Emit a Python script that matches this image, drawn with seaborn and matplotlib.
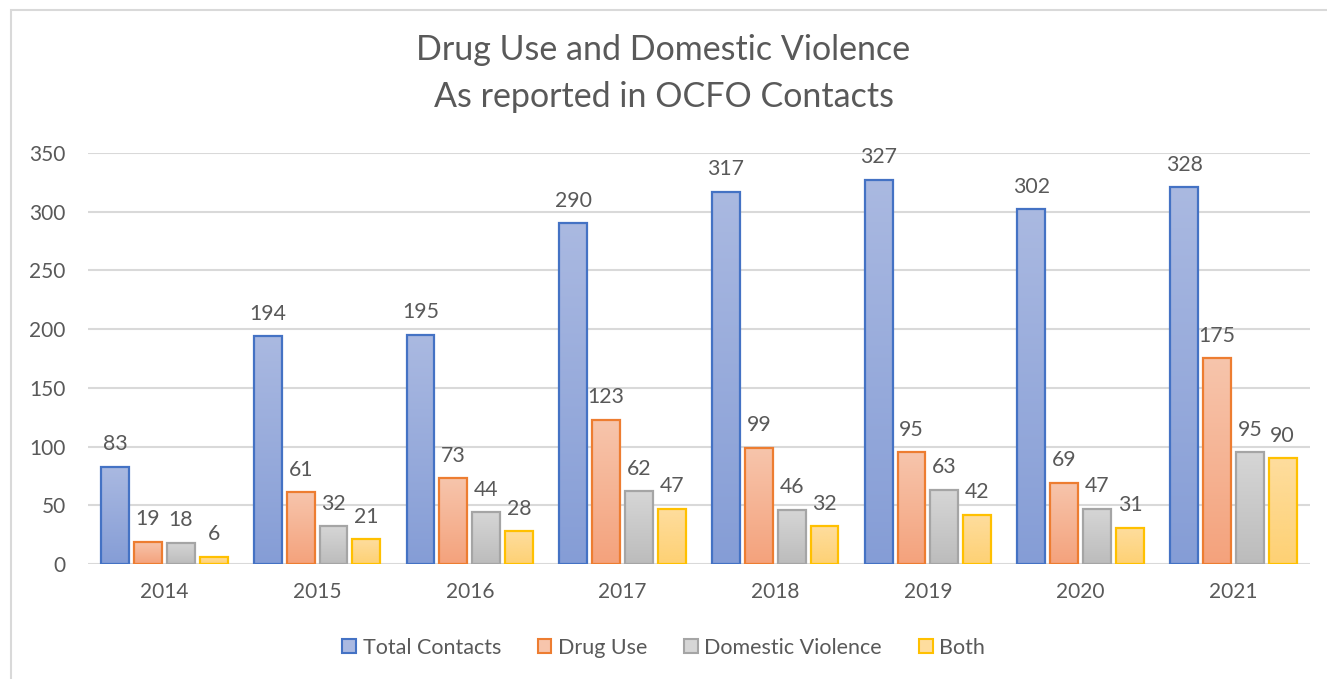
import numpy as np
import pandas as pd
import matplotlib
matplotlib.use("Agg")
import matplotlib.pyplot as plt
import seaborn as sns
from matplotlib.patches import Patch, Rectangle
from matplotlib.colors import LinearSegmentedColormap

years = ["2014", "2015", "2016", "2017", "2018", "2019", "2020", "2021"]
series = ["Total Contacts", "Drug Use", "Domestic Violence", "Both"]
total_contacts = [83, 194, 195, 290, 317, 327, 302, 321]
drug_use = [19, 61, 73, 123, 99, 95, 69, 175]
domestic_violence = [18, 32, 44, 62, 46, 63, 47, 95]
both = [6, 21, 28, 47, 32, 42, 31, 90]
# labels as printed on the chart
total_labels = [83, 194, 195, 290, 317, 327, 302, 328]

title = "Drug Use and Domestic Violence\nAs reported in OCFO Contacts"

edge_colors = ["#4472C4", "#ED7D31", "#A5A5A5", "#FFC000"]
top_colors = ["#AAB9E1", "#F7C5AC", "#D6D6D6", "#FEDD9E"]
bot_colors = ["#859DD6", "#F4A27C", "#BCBCBC", "#FED174"]

text_color = "#595959"
grid_color = "#D9D9D9"

df = pd.DataFrame({
    "Year": years * 4,
    "Series": sum([[s] * len(years) for s in series], []),
    "Value": total_contacts + drug_use + domestic_violence + both,
})
labels_all = [total_labels, drug_use, domestic_violence, both]

sns.set_theme(style="white")
plt.rcParams["font.family"] = ["Lato", "DejaVu Sans"]

fig = plt.figure(figsize=(13.27, 6.79), dpi=100)
ax = fig.add_axes([0.0663, 0.1694, 0.9207, 0.6053])

sns.barplot(data=df, x="Year", y="Value", hue="Series", hue_order=series,
            order=years, palette=edge_colors, width=0.86, gap=0.15,
            ax=ax, legend=False, saturation=1)

ax.set_ylim(0, 350)
ax.set_xlim(-0.5, 7.5)
ax.set_yticks(range(0, 351, 50))
ax.yaxis.grid(True, color=grid_color, linewidth=1.5)
ax.set_axisbelow(True)
for s in ax.spines.values():
    s.set_visible(False)
ax.set_xlabel("")
ax.set_ylabel("")
ax.tick_params(axis="both", length=0, labelsize=15, labelcolor=text_color)
ax.tick_params(axis="x", pad=13)
ax.tick_params(axis="y", pad=16)

for i, cont in enumerate(ax.containers):
    cmap = LinearSegmentedColormap.from_list(f"g{i}", [bot_colors[i], top_colors[i]])
    grad = np.linspace(0, 1, 256).reshape(-1, 1)
    for j, bar in enumerate(cont):
        x0, y0 = bar.get_x(), bar.get_y()
        w, h = bar.get_width(), bar.get_height()
        bar.set_facecolor("none")
        bar.set_edgecolor(edge_colors[i])
        bar.set_linewidth(1.6)
        bar.set_zorder(3)
        im = ax.imshow(grad, cmap=cmap, origin="lower", aspect="auto",
                       extent=[x0, x0 + w, y0, y0 + h], zorder=2.5)
        im.set_clip_path(bar)
        ax.annotate(str(labels_all[i][j]), (x0 + w / 2, y0 + h),
                    xytext=(0, 9), textcoords="offset points",
                    ha="center", va="bottom", fontsize=15.3, color=text_color)

ax.set_xlim(-0.5, 7.5)
ax.set_ylim(0, 350)

fig.text(0.5, 0.892, title, ha="center", va="center", fontsize=24.5,
         color=text_color, linespacing=1.6)

handles = [Patch(facecolor=top_colors[i], edgecolor=edge_colors[i], linewidth=1.5, label=series[i])
           for i in range(4)]
fig.legend(handles=handles, loc="center", bbox_to_anchor=(0.5, 0.046), ncol=4,
           frameon=False, fontsize=15.5, labelcolor=text_color,
           handlelength=0.65, handleheight=0.65, handletextpad=0.3, columnspacing=1.7)

fig.patches.append(Rectangle((0.0083, -0.05), 1.2, 1.036, transform=fig.transFigure,
                             fill=False, edgecolor=grid_color, linewidth=1.5))
fig.savefig("out.png", dpi=100)
